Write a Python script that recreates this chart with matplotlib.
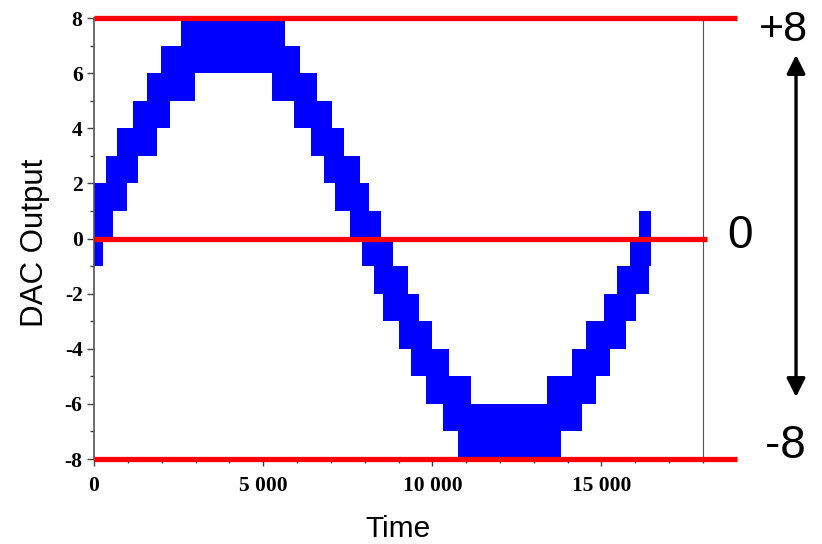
import numpy as np
import matplotlib
matplotlib.use("Agg")
import matplotlib.pyplot as plt

plt.rcParams['axes.unicode_minus'] = False

# Quantised sine drawn as a band: upper and lower step envelopes
upper_edges = [0, 364, 689, 1154, 1559, 1991, 2583, 5651, 6074, 6598, 7021, 7376, 7849,
               8127, 8491, 8837, 9269, 9595, 9979, 10503, 11133, 13382, 14142, 14536,
               15068, 15465, 15838, 16104, 16450]
upper_levels = [2, 3, 4, 5, 6, 7, 8, 7, 6, 5, 4, 3, 2, 1, 0, -1, -2, -3, -4, -5, -6,
                -5, -4, -3, -2, -1, 0, 1]

lower_edges = [0, 275, 562, 985, 1311, 1864, 2257, 2997, 5258, 5897, 6411, 6805, 7121,
               7553, 7920, 8263, 8541, 9015, 9370, 9814, 10317, 10755, 13808, 14414,
               14832, 15237, 15710, 16015, 16411, 16450]
lower_levels = [-1, 0, 1, 2, 3, 4, 5, 6, 5, 4, 3, 2, 1, 0, -1, -2, -3, -4, -5, -6, -7,
                -8, -7, -6, -5, -4, -3, -2, -1]

# Red reference lines: level and where they end on the right
red_levels = [8, 0, -8]
red_ends = [19020, 18130, 19020]

x_ticks = [0, 5000, 10000, 15000]
x_labels = ['0', '5 000', '10 000', '15 000']
y_ticks = [-8, -6, -4, -2, 0, 2, 4, 6, 8]

side_labels = ['+8', '0', '-8']


def staircase(edges, levels):
    xs = np.repeat(edges, 2)[1:-1]
    ys = np.repeat(levels, 2)
    return xs, ys


fig = plt.figure(figsize=(8.22, 5.44), dpi=100)
ax = fig.add_axes([0.1144, 0.1562, 0.7408, 0.8107])

ux, uy = staircase(upper_edges, upper_levels)
lx, ly = staircase(lower_edges, lower_levels)
ax.fill(np.concatenate([ux, lx[::-1]]), np.concatenate([uy, ly[::-1]]),
        color='#0000ff', linewidth=0, zorder=2)

for lvl, end in zip(red_levels, red_ends):
    ax.plot([0, end], [lvl, lvl], color='#ff0000', linewidth=3.8,
            solid_capstyle='butt', clip_on=False, zorder=4)

ax.set_xlim(0, 18000)
ax.set_ylim(-8, 8)

ax.spines['top'].set_visible(False)
ax.spines['bottom'].set_visible(False)
ax.spines['left'].set_color('#555555')
ax.spines['left'].set_linewidth(1.2)
ax.spines['right'].set_color('#555555')
ax.spines['right'].set_linewidth(0.8)

ax.set_xticks(x_ticks, x_labels)
ax.set_xticks(np.arange(0, 18001, 1000), minor=True)
ax.set_yticks(y_ticks)
ax.set_yticks(np.arange(-7, 8, 2), minor=True)
ax.tick_params(axis='both', which='major', length=5, width=1, color='#444444')
ax.tick_params(axis='both', which='minor', length=3, width=1, color='#444444')
ax.tick_params(axis='y', which='both', right=False, pad=3.3)
ax.tick_params(axis='x', which='major', pad=7.5)
for lbl in ax.get_xticklabels() + ax.get_yticklabels():
    lbl.set_fontfamily('Liberation Serif')
    lbl.set_fontweight('bold')
    lbl.set_fontsize(15.5)

fig.text(0.0519, 0.5533, 'DAC Output', rotation=90, rotation_mode='anchor',
         ha='center', va='baseline', fontsize=22.5, family='Liberation Sans')
fig.text(0.4842, 0.0125, 'Time', ha='center', va='baseline',
         fontsize=21.5, family='Liberation Sans')

fig.text(0.9532, 0.925, side_labels[0], ha='center', va='baseline',
         fontsize=31, family='Liberation Sans')
fig.text(0.9002, 0.545, side_labels[1], ha='center', va='baseline',
         fontsize=33, family='Liberation Sans')
fig.text(0.9554, 0.158, side_labels[2], ha='center', va='baseline',
         fontsize=33, family='Liberation Sans')

fig.patches.append(matplotlib.patches.FancyArrowPatch(
    (0.9684, 0.2702), (0.9684, 0.8989), transform=fig.transFigure,
    arrowstyle='<|-|>,head_length=0.8,head_width=0.4', mutation_scale=14,
    color='black', linewidth=2.4, shrinkA=0, shrinkB=0))

fig.savefig('out.png', dpi=100)
